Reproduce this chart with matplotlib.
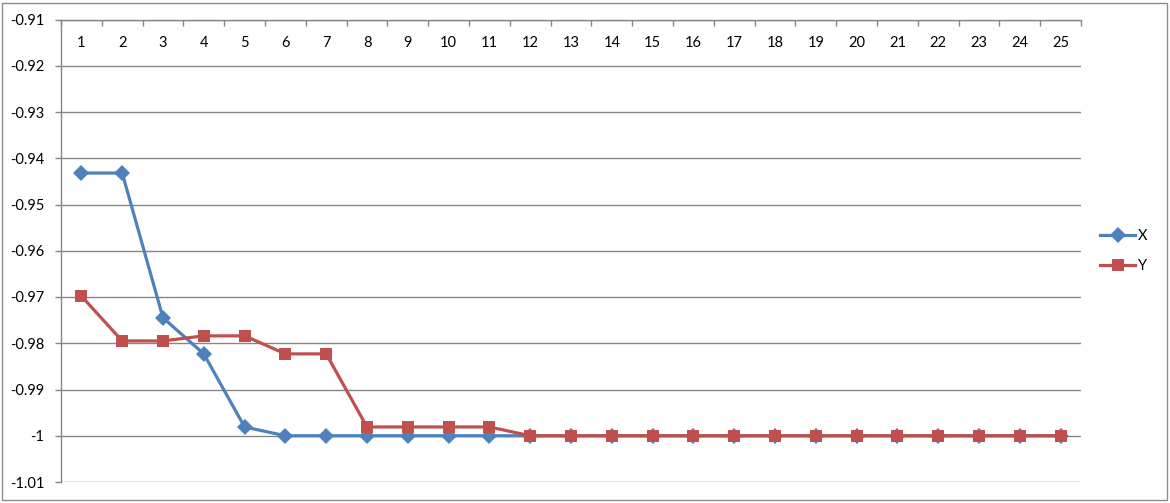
import matplotlib
matplotlib.use("Agg")
import matplotlib.pyplot as plt
from matplotlib.patches import Rectangle

categories = list(range(1, 26))
x_values = [-0.9432, -0.9432, -0.9745, -0.9823, -0.9981] + [-1.0] * 20
y_values = [-0.9698, -0.9795, -0.9795, -0.9784, -0.9784, -0.9823, -0.9823,
            -0.9981, -0.9981, -0.9981, -0.9981] + [-1.0] * 14
y_ticks = [-1.01, -1.0, -0.99, -0.98, -0.97, -0.96, -0.95, -0.94, -0.93, -0.92, -0.91]
y_tick_labels = ["-1.01", "-1", "-0.99", "-0.98", "-0.97", "-0.96", "-0.95",
                 "-0.94", "-0.93", "-0.92", "-0.91"]

plt.rcParams['font.family'] = ['Lato', 'DejaVu Sans']
W, H = 1170, 503
fig = plt.figure(figsize=(W / 100, H / 100), dpi=100)
ax = fig.add_axes([61 / W, 1 - 482 / H, (1081 - 61) / W, (482 - 19.5) / H])

blue = '#4F81BD'
red = '#C0504D'
grid = '#868686'

lx, = ax.plot(categories, x_values, color=blue, lw=2.3, marker='D', ms=8,
              markeredgewidth=0, label='X', zorder=3)
ly, = ax.plot(categories, y_values, color=red, lw=2.3, marker='s', ms=9,
              markeredgewidth=0, label='Y', zorder=4)

ax.set_xlim(0.5, 25.5)
ax.set_ylim(-1.01, -0.91)
ax.set_yticks(y_ticks)
ax.set_yticklabels(y_tick_labels)
ax.yaxis.grid(True, color=grid, lw=1)
ax.set_axisbelow(True)

ax.set_xticks(categories)
ax.set_xticklabels([str(c) for c in categories])
ax.set_xticks([c + 0.5 for c in [0] + categories], minor=True)
ax.tick_params(axis='x', which='major', top=True, bottom=False, labeltop=True,
               labelbottom=False, length=0, pad=-22, labelsize=10.5, colors='black')
ax.tick_params(axis='x', which='minor', top=True, bottom=False, direction='in',
               length=4, width=1, color=grid)
ax.tick_params(axis='y', which='major', direction='out', length=4, width=1,
               color=grid, pad=8, labelsize=10.5)

for s in ['right', 'bottom']:
    ax.spines[s].set_visible(False)
for s in ['left', 'top']:
    ax.spines[s].set_color(grid)
    ax.spines[s].set_linewidth(1)

leg = fig.legend(handles=[lx, ly], loc='center left',
                 bbox_to_anchor=(1100 / W, 1 - 251 / H), frameon=False,
                 handlelength=2.4, handletextpad=0.2, labelspacing=1.1,
                 fontsize=10.5, borderpad=0, borderaxespad=0)

fig.patches.append(Rectangle((2 / W, 3 / H), (1167 - 2) / W, (500 - 3) / H,
                             transform=fig.transFigure, fill=False,
                             edgecolor='#8c8c8c', lw=1))

fig.savefig('out.png', dpi=100)
